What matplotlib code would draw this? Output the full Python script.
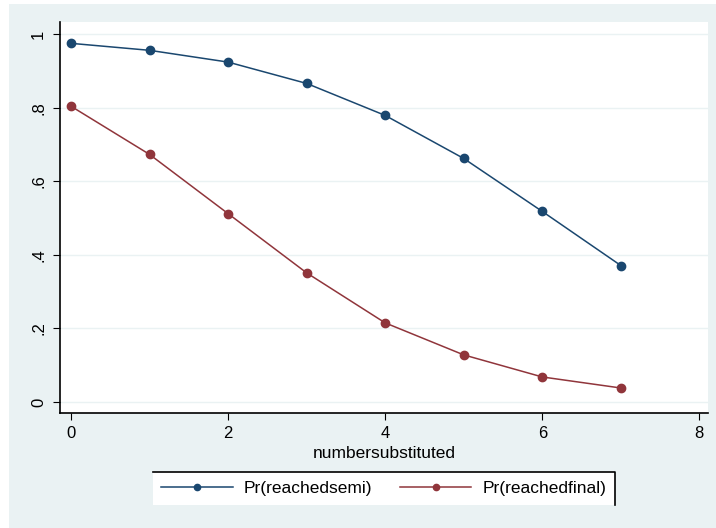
import matplotlib.pyplot as plt
from matplotlib.patches import Rectangle
from matplotlib.lines import Line2D

# %% data
n_sub = [0, 1, 2, 3, 4, 5, 6, 7]
pr_semi = [0.975, 0.956, 0.924, 0.866, 0.779, 0.662, 0.518, 0.371]
pr_final = [0.804, 0.673, 0.512, 0.351, 0.215, 0.128, 0.068, 0.038]

x_ticks = [0, 2, 4, 6, 8]
y_ticks = [0, 0.2, 0.4, 0.6, 0.8, 1]
y_tick_labels = ['0', '.2', '.4', '.6', '.8', '1']

navy = '#1a476f'
maroon = '#90353b'
bg = '#eaf2f3'

plt.rcParams['font.family'] = ['Liberation Sans', 'DejaVu Sans']

# %% figure
fig = plt.figure(figsize=(7.16, 5.28), dpi=100, facecolor='white')
fig.patches.append(Rectangle((9/716, 0), 1, 1 - 4/528, transform=fig.transFigure,
                             facecolor=bg, edgecolor='none', zorder=-10))

ax = fig.add_axes([60/716, 1 - 413/528, 648/716, 391/528])
ax.set_facecolor('white')

ax.plot(n_sub, pr_semi, color=navy, lw=1.1, marker='o', ms=6, label='Pr(reachedsemi)')
ax.plot(n_sub, pr_final, color=maroon, lw=1.1, marker='o', ms=6, label='Pr(reachedfinal)')

ax.set_xlim(-0.14, 8.11)
ax.set_ylim(-0.03, 1.033)
ax.set_xticks(x_ticks)
ax.set_yticks(y_ticks)
ax.set_yticklabels(y_tick_labels, rotation=90, va='center')
ax.tick_params(axis='both', labelsize=12, length=5, width=0.8, colors='black')
ax.tick_params(axis='y', pad=5)
ax.tick_params(axis='x', pad=4)

ax.grid(axis='y', color=bg, lw=1.0)
ax.set_axisbelow(True)
for s in ['top', 'right']:
    ax.spines[s].set_visible(False)
for s in ['left', 'bottom']:
    ax.spines[s].set_linewidth(1.2)

ax.set_xlabel('numbersubstituted', fontsize=12.5, labelpad=4)

leg = ax.legend(loc='upper center', bbox_to_anchor=(0.5, -0.151), ncol=2,
                frameon=True, fancybox=False, framealpha=1, edgecolor='none',
                facecolor='white', fontsize=12.5, handlelength=4.1,
                columnspacing=1.6, handletextpad=0.65, borderpad=0.5,
                borderaxespad=0)
for h in leg.legend_handles:
    h.set_markersize(4.5)

# top and right border of the legend box
fig.canvas.draw()
bb = leg.get_window_extent().transformed(fig.transFigure.inverted())
fig.add_artist(Line2D([bb.x0, bb.x1, bb.x1], [bb.y1, bb.y1, bb.y0],
                      transform=fig.transFigure, color='black', lw=1.2))

fig.savefig('out.png', dpi=100, facecolor=fig.get_facecolor())
